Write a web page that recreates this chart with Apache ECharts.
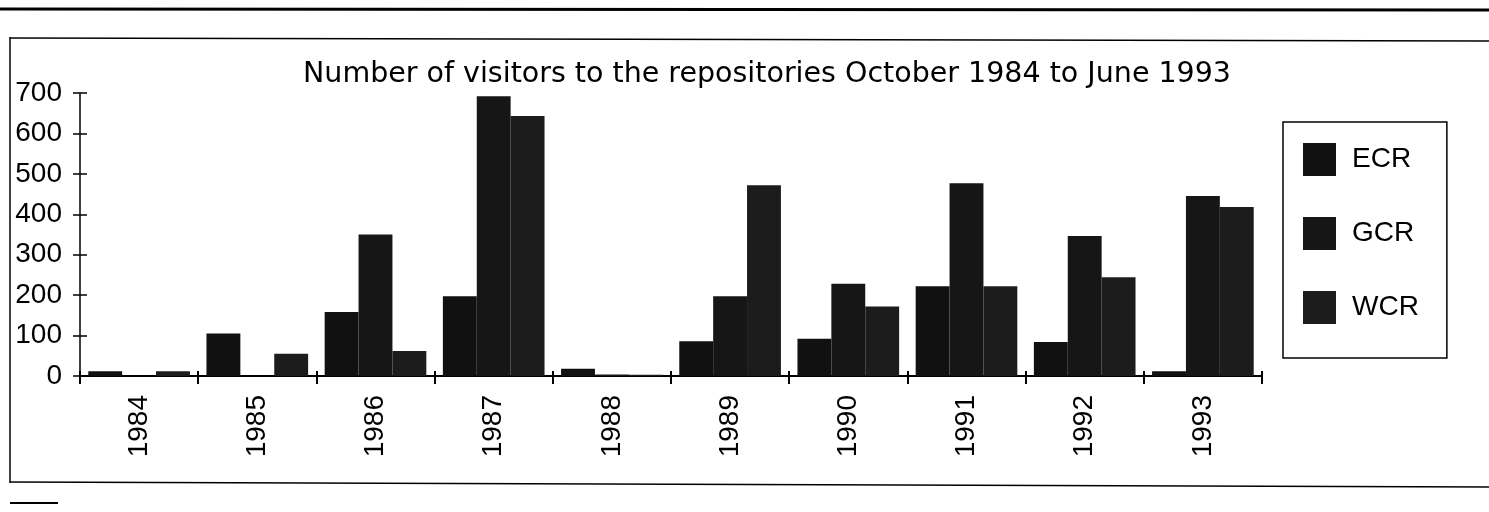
<!DOCTYPE html>
<html>
<head>
<meta charset="utf-8">
<script src="https://cdn.jsdelivr.net/npm/echarts@6/dist/echarts.min.js"></script>
<style>
html,body{margin:0;padding:0;background:#fff;}
#chart{width:1489px;height:512px;}
</style>
</head>
<body>
<div id="chart"></div>
<script>
const titleText = 'Number of visitors to the repositories October 1984 to June 1993';
const categories = ['1984','1985','1986','1987','1988','1989','1990','1991','1992','1993'];
const seriesNames = ['ECR','GCR','WCR'];
const ecrValues = [12, 105, 158, 197, 18, 86, 92, 222, 84, 12];
const gcrValues = [0, 0, 350, 692, 4, 197, 228, 477, 346, 445];
const wcrValues = [12, 55, 62, 643, 3, 472, 172, 222, 244, 418];
const yTicks = [0, 100, 200, 300, 400, 500, 600, 700];

const FONT = '"Liberation Sans", Arial, sans-serif';
const TITLE_FONT = '"DejaVu Sans", "Liberation Sans", sans-serif';
const chart = echarts.init(document.getElementById('chart'), null, {renderer: 'canvas'});

const yMin = yTicks[0], yMax = yTicks[yTicks.length - 1], yStep = yTicks[1] - yTicks[0];

const barColors = ['#111111', '#161616', '#1c1c1c'];
const allValues = [ecrValues, gcrValues, wcrValues];

chart.setOption({
  backgroundColor: '#ffffff',
  animation: false,
  title: {
    text: titleText,
    left: 298,
    top: 55,
    textStyle: {fontFamily: TITLE_FONT, fontSize: 28.5, fontWeight: 'normal', color: '#000'}
  },
  legend: {
    orient: 'vertical',
    left: 1283,
    top: 122,
    padding: [21, 28, 34, 20],
    itemWidth: 33,
    itemHeight: 33,
    itemGap: 41,
    icon: 'rect',
    borderColor: '#000',
    borderWidth: 1.5,
    data: seriesNames,
    textStyle: {fontFamily: FONT, fontSize: 28, color: '#000', padding: [0, 0, 0, 11]}
  },
  grid: {left: 80, right: 227, top: 93, bottom: 136, containLabel: false},
  xAxis: [
    {
      type: 'category',
      data: categories,
      axisLine: {lineStyle: {color: '#000', width: 2}},
      axisTick: {show: true, length: 8, lineStyle: {color: '#000', width: 2}},
      axisLabel: {rotate: 90, margin: 19, fontFamily: FONT, fontSize: 28, color: '#000'},
      splitLine: {show: false}
    },
    {
      type: 'category',
      data: categories,
      position: 'bottom',
      axisLine: {show: false},
      axisTick: {show: true, inside: true, length: 5, lineStyle: {color: '#000', width: 2}},
      axisLabel: {show: false},
      splitLine: {show: false}
    }
  ],
  yAxis: [
    {
      type: 'value',
      min: yMin, max: yMax, interval: yStep,
      axisLine: {show: true, lineStyle: {color: '#000', width: 1.5}},
      axisTick: {show: true, length: 7, lineStyle: {color: '#000', width: 1.5}},
      axisLabel: {margin: 18, fontFamily: FONT, fontSize: 28, color: '#000'},
      splitLine: {show: false}
    },
    {
      type: 'value',
      position: 'left',
      min: yMin, max: yMax, interval: yStep,
      axisLine: {show: false},
      axisTick: {show: true, inside: true, length: 7, lineStyle: {color: '#000', width: 1.5}},
      axisLabel: {show: false},
      splitLine: {show: false}
    }
  ],
  series: seriesNames.map((name, i) => ({
    name: name,
    type: 'bar',
    data: allValues[i],
    barGap: '0%',
    barCategoryGap: '14%',
    itemStyle: {color: barColors[i]}
  })),
  graphic: [
    {type: 'line', shape: {x1: 0, y1: 9, x2: 1489, y2: 10}, style: {stroke: '#000', lineWidth: 3}},
    {type: 'line', shape: {x1: 10, y1: 38, x2: 1489, y2: 41}, style: {stroke: '#000', lineWidth: 1.5}},
    {type: 'line', shape: {x1: 10, y1: 37, x2: 10, y2: 483}, style: {stroke: '#000', lineWidth: 1.5}},
    {type: 'line', shape: {x1: 10, y1: 482, x2: 1489, y2: 487}, style: {stroke: '#000', lineWidth: 1.5}},
    {type: 'line', shape: {x1: 10, y1: 503, x2: 58, y2: 503}, style: {stroke: '#000', lineWidth: 2}}
  ]
});
</script>
</body>
</html>
